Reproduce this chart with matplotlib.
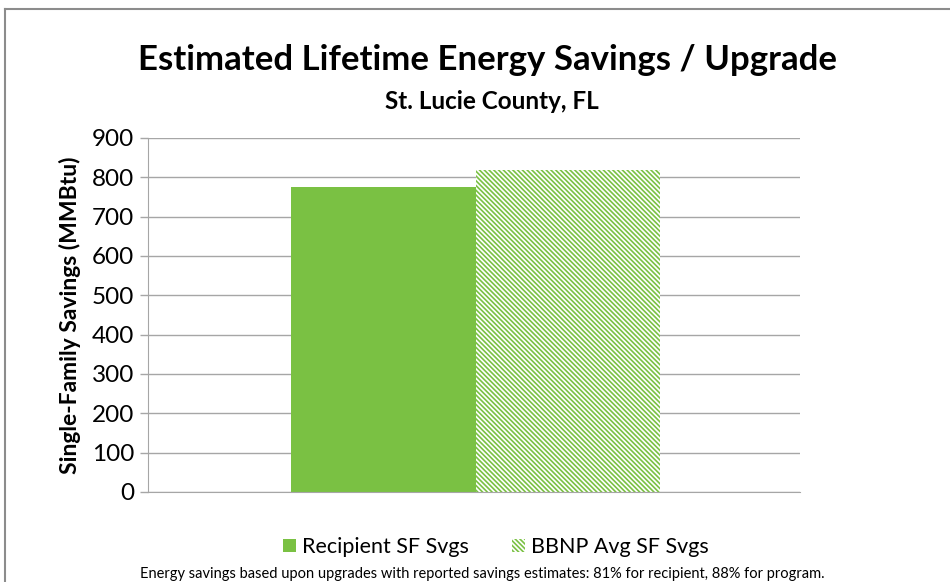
import matplotlib
matplotlib.use("Agg")
import matplotlib.pyplot as plt
from matplotlib.patches import Patch
from matplotlib.lines import Line2D

plt.rcParams['font.family'] = ['Lato', 'DejaVu Sans']
plt.rcParams['hatch.linewidth'] = 1.2

series = ["Recipient SF Svgs", "BBNP Avg SF Svgs"]
values = [775, 818]
yticks = [0, 100, 200, 300, 400, 500, 600, 700, 800, 900]

green = "#7AC143"
gray = "#A6A6A6"
hatch = '\\' * 7

fig = plt.figure(figsize=(9.5, 5.82), dpi=100)
ax = fig.add_axes([148/950, 1-492/582, 652/950, 354/582])

w = 0.283
ax.bar(-w/2 + 0.003, values[0], width=w, color=green, edgecolor='none', label=series[0])
ax.bar(w/2 + 0.003, values[1], width=w, color='white', edgecolor=green, hatch=hatch,
       linewidth=0, label=series[1])
ax.set_xlim(-0.5, 0.5)
ax.set_ylim(0, 900)
ax.set_yticks(yticks)
ax.set_xticks([])
ax.grid(axis='y', color=gray, linewidth=1)
ax.set_axisbelow(True)
for s in ['top', 'right']:
    ax.spines[s].set_visible(False)
ax.spines['left'].set_color(gray)
ax.spines['bottom'].set_color(gray)
ax.tick_params(axis='y', colors=gray, length=6, width=1, labelsize=17.5, pad=4)
for lab in ax.get_yticklabels():
    lab.set_color('black')
ax.set_ylabel("Single-Family Savings (MMBtu)", fontsize=16.5, fontweight='bold', labelpad=8)

fig.text(487/950, 1-60/582, "Estimated Lifetime Energy Savings / Upgrade",
         ha='center', va='center', fontsize=25, fontweight='bold')
fig.text(492/950, 1-101/582, "St. Lucie County, FL",
         ha='center', va='center', fontsize=17.5, fontweight='bold')

handles = [Patch(facecolor=green, edgecolor='none'),
           Patch(facecolor='white', edgecolor=green, hatch=hatch, linewidth=0)]
fig.legend(handles, series, loc='center', bbox_to_anchor=(496/950, 1-547/582),
           ncol=2, frameon=False, fontsize=15.5, handlelength=0.6, handleheight=0.6,
           handletextpad=0.3, columnspacing=2.0)

fig.text(482/950, 1-574/582,
         "Energy savings based upon upgrades with reported savings estimates: 81% for recipient, 88% for program.",
         ha='center', va='center', fontsize=10.5)

fig.add_artist(Line2D([5/950, 1], [1-9/582, 1-9/582], color='#8C8C8C', linewidth=1.5,
                      transform=fig.transFigure))
fig.add_artist(Line2D([5/950, 5/950], [0, 1-9/582], color='#8C8C8C', linewidth=1.5,
                      transform=fig.transFigure))

fig.savefig("out.png", dpi=100)
